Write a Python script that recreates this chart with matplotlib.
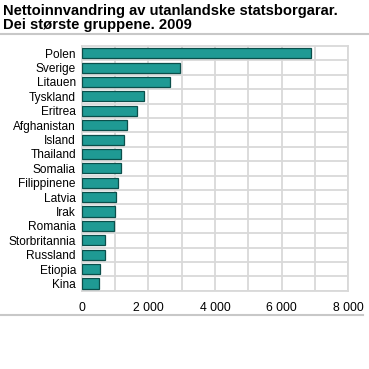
import numpy as np
import matplotlib.pyplot as plt
from matplotlib.ticker import FuncFormatter, MultipleLocator

plt.rcParams['font.family'] = ['Liberation Sans', 'DejaVu Sans']

# Data
countries = ['Polen', 'Sverige', 'Litauen', 'Tyskland', 'Eritrea', 'Afghanistan',
             'Island', 'Thailand', 'Somalia', 'Filippinene', 'Latvia', 'Irak',
             'Romania', 'Storbritannia', 'Russland', 'Etiopia', 'Kina']
values = [6880, 2940, 2640, 1870, 1650, 1360, 1270, 1180, 1170, 1090,
          1020, 1000, 970, 700, 690, 550, 520]
xticks = [0, 2000, 4000, 6000, 8000]

bar_color = '#1f9a94'
edge_color = '#0b4f4b'
grid_color = '#d9d9d9'

fig = plt.figure(figsize=(3.69, 3.69), dpi=100)
ax = fig.add_axes([81.5 / 369, 1 - 290.7 / 369, 266.8 / 369, 244.7 / 369])

y = np.arange(len(countries))
ax.barh(y, values, height=0.7, color=bar_color, edgecolor=edge_color,
        linewidth=0.9, zorder=3)
ax.set_ylim(len(countries) - 0.5, -0.5)
ax.set_xlim(0, 8000)

# grid: vertical every 1000, horizontal between rows
ax.xaxis.set_minor_locator(MultipleLocator(1000))
ax.set_xticks(xticks)
ax.set_yticks(y)
ax.set_yticklabels(countries)
ax.set_yticks(np.arange(len(countries)) + 0.5, minor=True)
ax.grid(which='minor', axis='both', color=grid_color, linewidth=1.3, zorder=0)
ax.grid(which='major', axis='x', color=grid_color, linewidth=1.3, zorder=0)
ax.tick_params(which='both', length=0)
ax.tick_params(axis='y', pad=4, labelsize=8.6)
ax.tick_params(axis='x', pad=8, labelsize=8.8)
ax.xaxis.set_major_formatter(FuncFormatter(lambda v, p: f'{int(v):,}'.replace(',', ' ')))
for s in ax.spines.values():
    s.set_color(grid_color)
    s.set_linewidth(1.3)

fig.text(3 / 369, 1 - 10.5 / 369, 'Nettoinnvandring av utanlandske statsborgarar.',
         fontsize=10.6, fontweight='bold', va='center', ha='left')
fig.text(3 / 369, 1 - 24.5 / 369, 'Dei største gruppene. 2009',
         fontsize=10.6, fontweight='bold', va='center', ha='left')

# separator lines
fig.add_artist(plt.Line2D([0, 1], [1 - 33.5 / 369, 1 - 33.5 / 369],
                          color='#c8c8c8', linewidth=1.5))
fig.add_artist(plt.Line2D([0, 363 / 369], [1 - 315 / 369, 1 - 315 / 369],
                          color='#c8c8c8', linewidth=1.5))

fig.savefig('out.png', dpi=100)
